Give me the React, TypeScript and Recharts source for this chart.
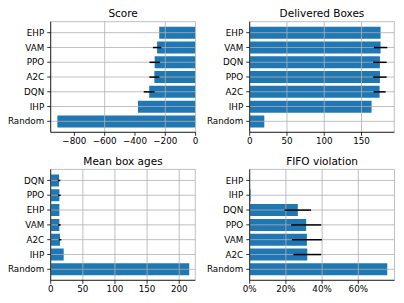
import { BarChart, Bar, XAxis, YAxis, CartesianGrid, ErrorBar } from 'recharts'

const scoreCats = ['EHP', 'VAM', 'PPO', 'A2C', 'DQN', 'IHP', 'Random']
const scoreVals = [-240, -254, -270, -272, -306, -380, -912]
const scoreErrs = [0, 28, 34, 33, 36, 0, 0]
const scoreTicks = [-800, -600, -400, -200, 0]

const boxCats = ['EHP', 'VAM', 'DQN', 'PPO', 'A2C', 'IHP', 'Random']
const boxVals = [175.6, 175.6, 174.7, 174.7, 174.3, 163.5, 19.6]
const boxErrs = [0, 9, 9, 9, 8, 0, 0]
const boxTicks = [0, 50, 100, 150]

const ageCats = ['DQN', 'PPO', 'EHP', 'VAM', 'A2C', 'IHP', 'Random']
const ageVals = [13, 13.5, 13.5, 13.5, 14.5, 20.2, 215.6]
const ageErrs = [2, 2, 0, 2, 2, 0, 0]
const ageTicks = [0, 50, 100, 150, 200]

const fifoCats = ['EHP', 'IHP', 'DQN', 'PPO', 'VAM', 'A2C', 'Random']
const fifoVals = [0, 0.005, 0.266, 0.312, 0.316, 0.318, 0.76]
const fifoErrs = [0, 0, 0.073, 0.083, 0.083, 0.077, 0]
const fifoTicks = [0, 0.2, 0.4, 0.6]

const W = 404
const H = 303
const YW = 45
const XH = 20
const FONT = 'DejaVu Sans'
const BLUE = '#1f77b4'

const minus = (v: number) => (v < 0 ? '\u2212' + Math.abs(v) : String(v))
const pct = (v: number) => Math.round(v * 100) + '%'

type Rect = { x0: number; x1: number; y0: number; y1: number }

function Panel(props: {
  title: string
  cats: string[]
  vals: number[]
  errs: number[]
  domain: [number, number]
  ticks: number[]
  fmt: (v: number) => string
  rect: Rect
}) {
  const { title, cats, vals, errs, domain, ticks, fmt, rect } = props
  const data = cats.map((c, i) => ({ name: c, value: vals[i], err: errs[i] }))
  const tickStyle = { fill: '#000', fontSize: 8.75, fontFamily: FONT }
  // grid sits over the bars like matplotlib's default, error bars above it
  const gridProps: any = { zIndex: 350 }
  const errProps: any = { zIndex: 450 }
  return (
    <>
      <div
        style={{
          position: 'absolute',
          left: rect.x0,
          width: rect.x1 - rect.x0,
          top: rect.y0 - 14.5,
          textAlign: 'center',
          fontFamily: FONT,
          fontSize: 10.5,
          lineHeight: '12px',
          color: '#000',
        }}
      >
        {title}
      </div>
      <div style={{ position: 'absolute', left: 0, top: 0 }}>
        <BarChart
          layout="vertical"
          width={W}
          height={H}
          data={data}
          margin={{ left: rect.x0 - YW, right: W - rect.x1, top: rect.y0, bottom: H - rect.y1 - XH }}
          barCategoryGap="10%"
        >
          <XAxis
            type="number"
            domain={domain}
            ticks={ticks}
            allowDataOverflow
            tickFormatter={fmt}
            tick={tickStyle}
            tickSize={3.5}
            tickMargin={2}
            height={XH}
            axisLine={{ stroke: '#000', strokeWidth: 0.8 }}
            tickLine={{ stroke: '#000', strokeWidth: 0.8 }}
          />
          <XAxis
            xAxisId="top"
            orientation="top"
            type="number"
            domain={domain}
            tick={false}
            tickLine={false}
            height={0}
            axisLine={{ stroke: '#000', strokeWidth: 0.8 }}
          />
          <YAxis
            type="category"
            dataKey="name"
            width={YW}
            padding={{ top: 3.6, bottom: 3.6 }}
            tick={tickStyle}
            tickSize={3.5}
            tickMargin={3}
            interval={0}
            axisLine={{ stroke: '#000', strokeWidth: 0.8 }}
            tickLine={{ stroke: '#000', strokeWidth: 0.8 }}
          />
          <YAxis
            yAxisId="right"
            orientation="right"
            type="number"
            domain={[0, 1]}
            tick={false}
            tickLine={false}
            width={0}
            axisLine={{ stroke: '#000', strokeWidth: 0.8 }}
          />
          <Bar dataKey="value" fill={BLUE} isAnimationActive={false}>
            <ErrorBar dataKey="err" direction="x" width={0} stroke="#000" strokeWidth={1.5} {...errProps} />
          </Bar>
          <CartesianGrid stroke="#b0b0b0" strokeWidth={0.8} {...gridProps} />
        </BarChart>
      </div>
    </>
  )
}

export default function App() {
  return (
    <div style={{ position: 'absolute', left: 0, top: 0, width: W, height: H, background: '#fff' }}>
      <Panel
        title="Score"
        cats={scoreCats}
        vals={scoreVals}
        errs={scoreErrs}
        domain={[-956, 0]}
        ticks={scoreTicks}
        fmt={minus}
        rect={{ x0: 50.7, x1: 195.6, y0: 21.7, y1: 132.3 }}
      />
      <Panel
        title="Delivered Boxes"
        cats={boxCats}
        vals={boxVals}
        errs={boxErrs}
        domain={[0, 194]}
        ticks={boxTicks}
        fmt={minus}
        rect={{ x0: 249.7, x1: 394.3, y0: 21.7, y1: 132.3 }}
      />
      <Panel
        title="Mean box ages"
        cats={ageCats}
        vals={ageVals}
        errs={ageErrs}
        domain={[0, 225]}
        ticks={ageTicks}
        fmt={minus}
        rect={{ x0: 50.7, x1: 195.3, y0: 169.4, y1: 280.3 }}
      />
      <Panel
        title="FIFO violation"
        cats={fifoCats}
        vals={fifoVals}
        errs={fifoErrs}
        domain={[0, 0.8]}
        ticks={fifoTicks}
        fmt={pct}
        rect={{ x0: 249.7, x1: 394.5, y0: 169.4, y1: 280.3 }}
      />
    </div>
  )
}
